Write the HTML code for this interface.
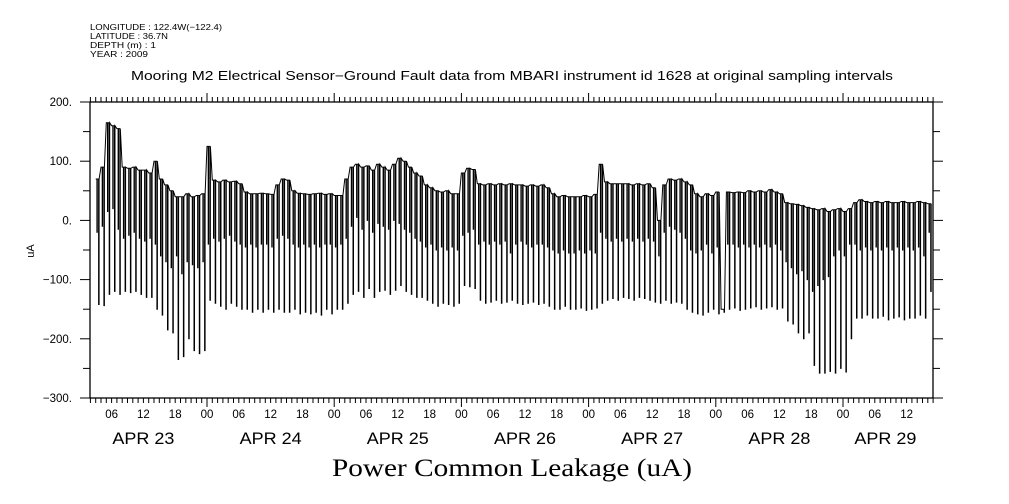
<!DOCTYPE html>
<html><head><meta charset="utf-8"><style>
body{margin:0;background:#fff;}
svg{display:block;font-family:"Liberation Sans",sans-serif;}
</style></head><body>
<svg id="chart" width="1009" height="504" viewBox="0 0 1009 504">
<g font-size="8.5" fill="#000">
<text x="90" y="30" textLength="132" lengthAdjust="spacingAndGlyphs">LONGITUDE : 122.4W(−122.4)</text>
<text x="90" y="39" textLength="78" lengthAdjust="spacingAndGlyphs">LATITUDE : 36.7N</text>
<text x="90" y="48" textLength="66" lengthAdjust="spacingAndGlyphs">DEPTH (m) : 1</text>
<text x="90" y="57" textLength="58" lengthAdjust="spacingAndGlyphs">YEAR : 2009</text>
</g>
<text x="131" y="80" textLength="762" lengthAdjust="spacingAndGlyphs" font-size="12.5">Mooring M2 Electrical Sensor−Ground Fault data from MBARI instrument id 1628 at original sampling intervals</text>
<text x="332" y="476" textLength="360" lengthAdjust="spacingAndGlyphs" font-size="25" font-family="'Liberation Serif',serif">Power Common Leakage (uA)</text>
<text x="34" y="251" text-anchor="middle" font-size="11" transform="rotate(-90 34 251)">uA</text>
<g id="axes"></g>
<path id="series" fill="none" stroke="#000" stroke-width="1"></path>
</svg>
<script>
const startHour = 3;
const tops = [
70,90,165,160,155,90,88,90,85,85,
80,100,70,60,50,40,40,45,40,42,
45,125,68,65,68,65,66,62,48,45,
45,46,45,44,60,70,68,50,46,45,
44,45,46,44,45,42,42,70,90,95,
90,92,85,95,90,85,95,105,100,90,
80,75,60,55,50,48,50,45,45,80,
88,86,62,60,62,60,62,60,62,60,
60,58,60,58,60,55,45,40,42,40,
40,40,42,40,44,95,65,62,62,62,
62,60,62,60,62,55,0,60,70,68,
70,65,60,45,40,45,42,48,-150,48,
47,48,47,50,48,50,48,52,48,45,
30,28,27,25,22,20,18,20,15,18,
20,15,20,30,35,32,30,32,30,32,
30,30,32,30,30,32,30,28];
const mids = [
-20,-10,15,20,-15,-30,-25,-20,-30,-35,
-30,-40,-60,-70,-80,-60,-90,-70,-75,-80,
-70,-40,-30,-35,-30,-25,-35,-40,-45,-40,
-45,-40,-40,-45,-30,-25,-30,-40,-45,-40,
-45,-40,-45,-40,-40,-45,-40,-30,-10,5,
-15,0,-20,-5,-10,-15,0,-5,-15,-20,
-30,-35,-45,-40,-50,-45,-50,-45,-50,-25,
-20,-15,-40,-35,-40,-35,-40,-35,-55,-40,
-35,-40,-45,-40,-40,-45,-50,-55,-50,-55,
-55,-50,-55,-50,-55,-20,-30,-35,-30,-35,
-30,-35,-30,-35,-30,-35,-60,-20,-10,-15,
-20,-30,-50,-55,-50,-40,-55,-45,-150,-40,
-40,-45,-40,-45,-40,-45,-40,-45,-40,-50,
-70,-80,-90,-85,-100,-120,-110,-100,-95,-60,
-50,-60,-40,-40,-50,-45,-50,-45,-50,-45,
-50,-45,-50,-45,-50,-45,-60,-20];
const bottoms = [
-142,-144,-125,-120,-125,-120,-122,-120,-125,-130,
-130,-150,-160,-185,-190,-235,-230,-200,-220,-225,
-220,-135,-140,-145,-150,-140,-145,-150,-150,-155,
-150,-155,-150,-155,-150,-155,-155,-150,-158,-155,
-158,-155,-160,-150,-158,-150,-150,-140,-125,-120,
-130,-115,-130,-120,-118,-125,-118,-110,-120,-125,
-130,-130,-135,-140,-145,-140,-142,-145,-140,-110,
-112,-115,-135,-140,-138,-135,-140,-138,-135,-140,
-142,-140,-138,-142,-140,-145,-150,-150,-145,-150,
-150,-148,-152,-150,-148,-140,-135,-132,-135,-130,
-132,-135,-130,-132,-135,-138,-140,-135,-140,-138,
-140,-150,-155,-158,-160,-155,-150,-158,-155,-150,
-148,-152,-150,-148,-146,-150,-148,-146,-150,-148,
-170,-175,-190,-200,-190,-245,-258,-258,-255,-258,
-250,-256,-200,-165,-165,-160,-165,-165,-162,-168,
-165,-163,-168,-165,-165,-160,-165,-120];
const yTicks = [200,100,0,-100,-200,-300];
const yTickLabels = ["200.","100.","0.","−100.","−200.","−300."];
const hourLabels = ["00","06","12","18"];
const dayLabels = ["APR 23","APR 24","APR 25","APR 26","APR 27","APR 28","APR 29"];
const dayLabelHours = [12,36,60,84,108,132,152];

const X0=90,X1=933,Y0=102,Y1=398;
const hourMin=1.9, hourMax=161.2;
const x = h => 79.8 + h*(127.2/24);
const y = v => Y0 + (200 - v)*(Y1-Y0)/500;
const NS="http://www.w3.org/2000/svg";
const axes=document.getElementById('axes');
function mk(tag,attrs,parent){const e=document.createElementNS(NS,tag);for(const k in attrs)e.setAttribute(k,attrs[k]);(parent||axes).appendChild(e);return e;}

const frame=mk('rect',{x:X0,y:Y0,width:X1-X0,height:Y1-Y0,fill:'none',stroke:'#000','stroke-width':1.3});



for(let v=-300;v<=200;v+=50){
  const major=(v%100===0);
  const len=major?10:7;
  const t1=mk('line',{x1:X0-len,x2:X0,y1:y(v),y2:y(v),stroke:'#000'});
  
  
  const t2=mk('line',{x1:X1,x2:X1+len,y1:y(v),y2:y(v),stroke:'#000'});
  
  
}
yTicks.forEach((v,i)=>{
  const t=mk('text',{x:72,y:y(v)+4,'text-anchor':'end','font-size':11.5});
  t.textContent=yTickLabels[i];
  
  
});
for(let h=Math.ceil(hourMin);h<=hourMax;h++){
  const xx=x(h);
  const mid=(h%24===0), six=(h%6===0);
  const len=mid?9:5;
  const a=mk('line',{x1:xx,x2:xx,y1:Y1,y2:Y1+len,stroke:'#000'});
  
  
  const b=mk('line',{x1:xx,x2:xx,y1:Y0,y2:Y0-len,stroke:'#000'});
  
  
  if(six){
    const t=mk('text',{x:xx,y:418,'text-anchor':'middle','font-size':11.5});
    t.textContent=hourLabels[(h%24)/6];
    
    
  }
}
dayLabels.forEach((d,i)=>{
  const t=mk('text',{x:x(dayLabelHours[i])-31,y:444,'font-size':16.5,textLength:62,lengthAdjust:'spacingAndGlyphs'});
  t.textContent=d;
  
  
});
let dstr='';
const P=v=>v.toFixed(1);
for(let i=0;i<tops.length;i++){
  const h=startHour+i;
  const a=x(h), m=x(h+0.22), m2=x(h+0.3), s=x(h+0.55), e=x(h+0.65);
  const yt=y(tops[i]);
  dstr+=(i===0?'M':'L')+P(a)+','+P(yt);
  dstr+='L'+P(m)+','+P(yt)+'L'+P(m)+','+P(y(mids[i]))+'L'+P(m2)+','+P(y(mids[i]))+'L'+P(m2)+','+P(yt);
  dstr+='L'+P(s)+','+P(yt)+'L'+P(s)+','+P(y(bottoms[i]))+'L'+P(e)+','+P(y(bottoms[i]))+'L'+P(e)+','+P(yt);
}
document.getElementById('series').setAttribute('d',dstr);
</script>
</body></html>
